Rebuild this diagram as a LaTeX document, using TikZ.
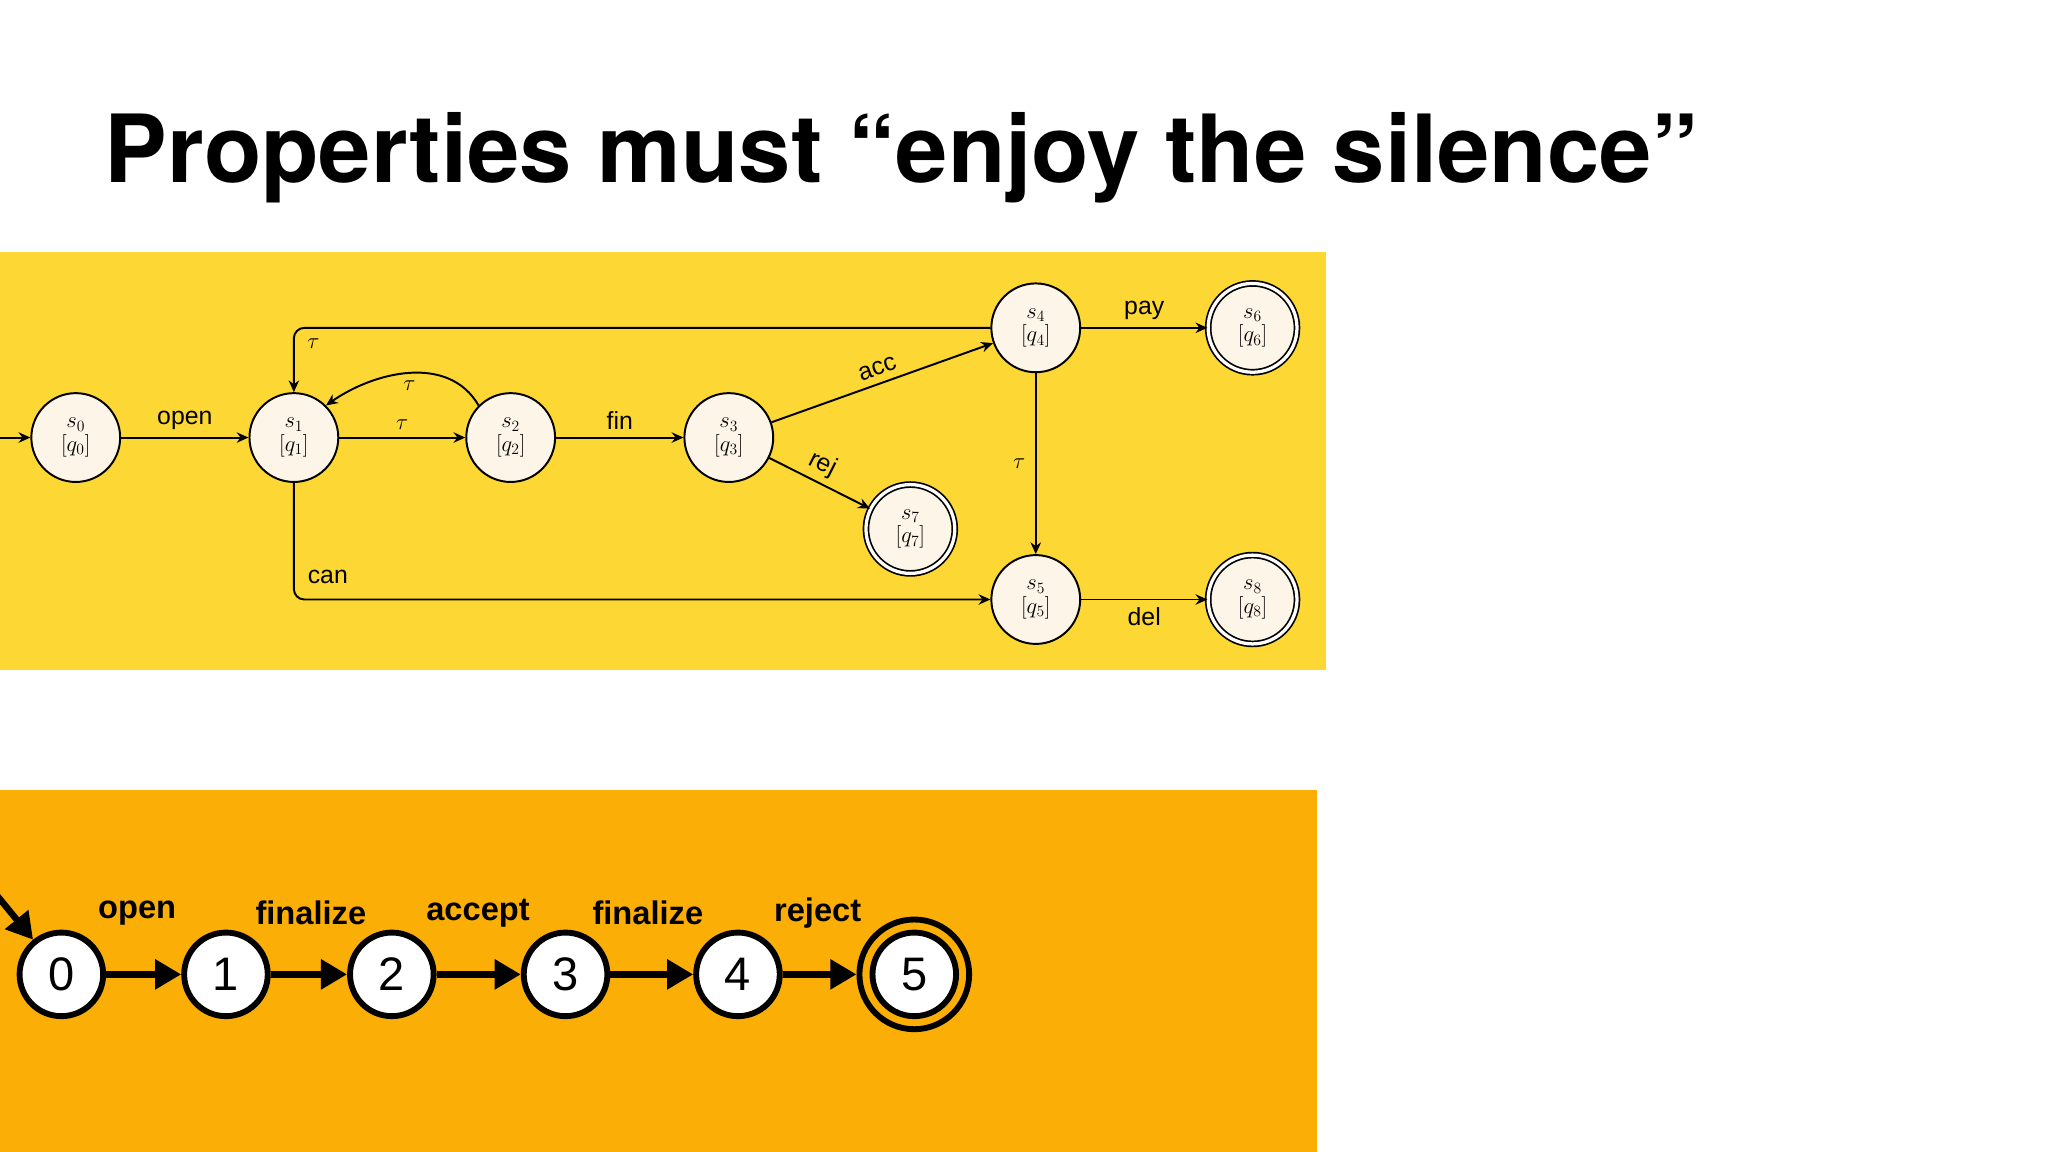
\documentclass[tikz,border=0pt]{standalone}
\usepackage{fontspec}
\setsansfont{Liberation Sans}
\newfontfamily\titlefont{TeX Gyre Heros}
\usetikzlibrary{arrows.meta}
\definecolor{ybg}{RGB}{253,216,53}
\definecolor{obg}{RGB}{251,174,5}
\definecolor{cream}{RGB}{253,245,232}
\tikzset{
 st/.style={circle,draw,line width=1.5pt,fill=cream,minimum size=68pt,inner sep=0pt,font=\fontsize{17}{20}\selectfont,align=center},
 acc/.style={st,double,double distance=2.5pt,line width=1.3pt},
 ed/.style={line width=1.5pt,-{Stealth[length=9pt,width=8pt]}},
 lb/.style={font=\sffamily\fontsize{19}{22}\selectfont},
 tl/.style={font=\fontsize{17}{20}\selectfont},
 bs/.style={circle,draw,line width=4.5pt,fill=white,minimum size=64pt,inner sep=0pt,font=\sffamily\fontsize{36}{40}\selectfont},
 be/.style={line width=5pt,-{Triangle[length=20pt,width=22pt]}},
 bl/.style={font=\sffamily\bfseries\fontsize{25}{28}\selectfont}
}
\begin{document}
\begin{tikzpicture}[x=1pt,y=-1pt]
\useasboundingbox (0,0) rectangle (1568,882);
\fill[white] (0,0) rectangle (1568,882);
\node[anchor=base west,inner sep=0pt,font=\titlefont\bfseries\fontsize{72}{80}\selectfont] (title) at (80,140) {Properties must “enjoy the silence”};
\fill[ybg] (0,193) rectangle (1015,513);
\fill[obg] (0,605) rectangle (1008,882);
% top automaton
\node[st] (s0) at (58,335) {$s_0$\\[-2pt]$[q_0]$};
\node[st] (s1) at (225,335) {$s_1$\\[-2pt]$[q_1]$};
\node[st] (s2) at (391,335) {$s_2$\\[-2pt]$[q_2]$};
\node[st] (s3) at (558,335) {$s_3$\\[-2pt]$[q_3]$};
\node[st] (s4) at (793,251) {$s_4$\\[-2pt]$[q_4]$};
\node[st] (s5) at (793,459) {$s_5$\\[-2pt]$[q_5]$};
\node[acc] (s6) at (959,251) {$s_6$\\[-2pt]$[q_6]$};
\node[acc] (s7) at (697,405) {$s_7$\\[-2pt]$[q_7]$};
\node[acc] (s8) at (959,459) {$s_8$\\[-2pt]$[q_8]$};
\coordinate (in0) at (0,335);
\draw[ed] (in0) -- (s0);
\draw[ed] (s0) -- node[lb,above=2pt]{open} (s1);
\draw[ed] (s1) -- node[tl,above=2pt]{$\tau$} (s2);
\draw[ed] (s2.north west) to[out=120,in=35] node[tl,below=2pt]{$\tau$} (s1.north east);
\draw[ed] (s2) -- node[lb,above=2pt]{fin} (s3);
\draw[ed] (s3) -- node[lb,sloped,above=2pt]{acc} (s4);
\draw[ed] (s3) -- node[lb,sloped,above=1pt,pos=0.45]{rej} (s7);
\draw[ed,rounded corners=8pt] (s4.west) -- (s1.north |- s4.west) -- (s1.north);
\node[tl] (t41) at (240,263) {$\tau$};
\draw[ed,rounded corners=8pt] (s1.south) -- (s1.south |- s5.west) -- (s5.west);
\node[lb] (can) at (251,442) {can};
\draw[ed] (s4) -- node[tl,left=4pt]{$\tau$} (s5);
\draw[ed] (s4) -- node[lb,above=2pt]{pay} (s6);
\draw[ed] (s5) -- node[lb,below=2pt]{del} (s8);
% bottom automaton
\node[bs] (b0) at (47,746) {0};
\node[bs] (b1) at (173,746) {1};
\node[bs] (b2) at (300,746) {2};
\node[bs] (b3) at (433,746) {3};
\node[bs] (b4) at (565,746) {4};
\node[bs] (b5) at (700,746) {5};
\draw[line width=4.5pt] (b5) circle (42pt);
\coordinate (bin) at (-2,686);
\draw[be] (bin) -- (b0);
\draw[be] (b0) -- (b1);
\draw[be] (b1) -- (b2);
\draw[be] (b2) -- (b3);
\draw[be] (b3) -- (b4);
\draw[be,shorten >=10pt] (b4) -- (b5);
\node[bl] (l1) at (105,699) {open};
\node[bl] (l2) at (238,699) {finalize};
\node[bl] (l3) at (366,699) {accept};
\node[bl] (l4) at (496,699) {finalize};
\node[bl] (l5) at (626,699) {reject};
\end{tikzpicture}
\end{document}
